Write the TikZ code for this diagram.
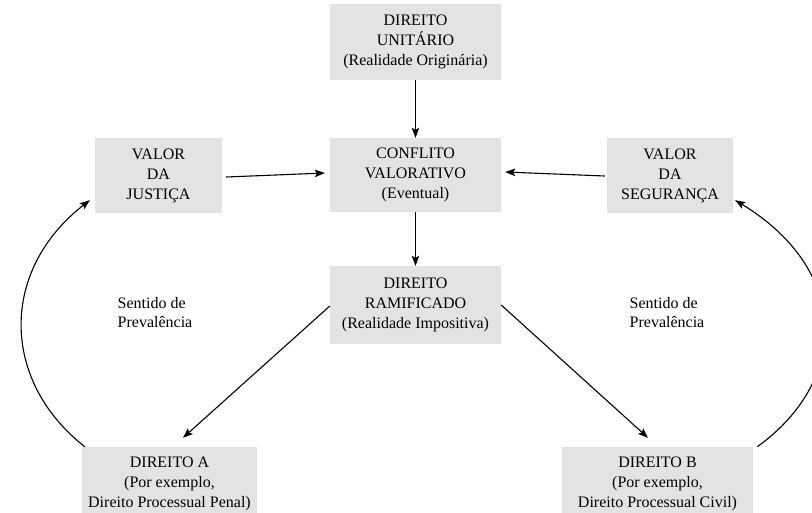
\documentclass[tikz,border=0pt]{standalone}
\usepackage{fontspec}
\setmainfont{Liberation Serif}
\usetikzlibrary{arrows.meta,calc}
\begin{document}
\begin{tikzpicture}[x=1pt,y=-1pt,
  box/.style={fill=black!11, inner sep=0pt, align=center,
    font=\fontsize{16}{20}\selectfont},
  note/.style={inner sep=0pt, align=left, font=\fontsize{16}{19}\selectfont},
  link/.style={line width=1.1pt, -{Stealth[length=10pt,width=7.5pt,inset=2pt]}}]
\useasboundingbox (0,0) rectangle (812,512);

% central column
\node[box, minimum width=171pt, minimum height=76pt] (unit) at (415.5,42)
  {DIREITO\\UNITÁRIO\\(Realidade Originária)};
\node[box, minimum width=171pt, minimum height=74pt] (conf) at (415.5,175)
  {CONFLITO\\VALORATIVO\\(Eventual)};
\node[box, minimum width=171pt, minimum height=78pt] (ram) at (415.5,305)
  {DIREITO\\RAMIFICADO\\(Realidade Impositiva)};

% values
\node[box, minimum width=127pt, minimum height=75pt] (just) at (158.5,175.5)
  {VALOR\\DA\\JUSTIÇA};
\node[box, minimum width=126pt, minimum height=75pt] (seg) at (670,175.5)
  {VALOR\\DA\\SEGURANÇA};

% branches
\node[box, minimum width=175pt, minimum height=74pt] (dA) at (169.5,484)
  {DIREITO A\\(Por exemplo,\\Direito Processual Penal)};
\node[box, minimum width=191pt, minimum height=74pt] (dB) at (657.5,484)
  {DIREITO B\\(Por exemplo,\\Direito Processual Civil)};

% labels
\node[note] (nl) at (155,313) {Sentido de\\Prevalência};
\node[note] (nr) at (667,313) {Sentido de\\Prevalência};

% connectors
\draw[link] (unit) -- (conf);
\draw[link] (conf) -- (ram);
\draw[link] ([xshift=4pt,yshift=-1.5pt]just.east) -- ([xshift=-5pt,yshift=2pt]conf.west);
\draw[link] ([xshift=-2pt,yshift=-0.5pt]seg.west) -- ([xshift=4pt,yshift=3pt]conf.east);
\draw[link] ([yshift=-1pt]ram.west) -- ([xshift=13.5pt,yshift=9pt]dA.north);
\draw[link] (ram.east) -- ([xshift=-9.5pt,yshift=9pt]dB.north);
\draw[link] ([xshift=3pt]dA.north west) .. controls (0,380) and (0,270) .. ([xshift=-5pt,yshift=13pt]just.south west);
\draw[link] ([xshift=4pt]dB.north east) .. controls (850,380) and (850,270) .. ([xshift=2pt,yshift=13pt]seg.south east);
\end{tikzpicture}
\end{document}
